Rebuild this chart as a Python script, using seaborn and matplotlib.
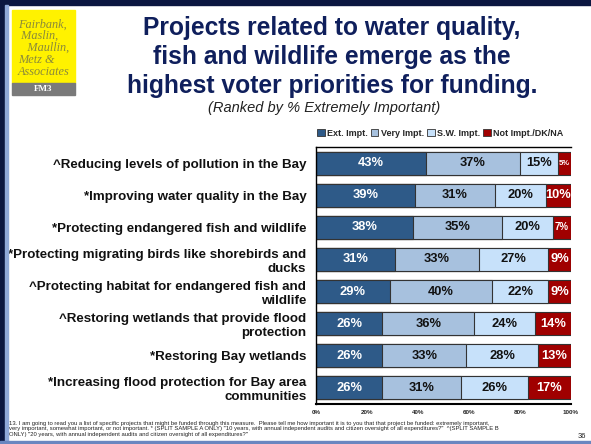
import seaborn as sns
import matplotlib.pyplot as plt
import pandas as pd
from matplotlib.patches import Rectangle, Patch

## data
projects = [
    "^Reducing levels of pollution in the Bay",
    "*Improving water quality in the Bay",
    "*Protecting endangered fish and wildlife",
    "*Protecting migrating birds like shorebirds and\nducks",
    "^Protecting habitat for endangered fish and\nwildlife",
    "^Restoring wetlands that provide flood\nprotection",
    "*Restoring Bay wetlands",
    "*Increasing flood protection for Bay area\ncommunities",
]
ext_impt = [43, 39, 38, 31, 29, 26, 26, 26]
very_impt = [37, 31, 35, 33, 40, 36, 33, 31]
sw_impt = [15, 20, 20, 27, 22, 24, 28, 26]
not_impt = [5, 10, 7, 9, 9, 14, 13, 17]
series_names = ["Ext. Impt.", "Very Impt.", "S.W. Impt.", "Not Impt./DK/NA"]
colors = ["#2E5A88", "#A7C1DE", "#C7E1FA", "#A00000"]
text_colors = ["white", "#111111", "#111111", "white"]
xticks = [0, 20, 40, 60, 80, 100]

df = pd.DataFrame({"project": projects, "Ext. Impt.": ext_impt, "Very Impt.": very_impt,
                   "S.W. Impt.": sw_impt, "Not Impt./DK/NA": not_impt})
cum = df[series_names].cumsum(axis=1)

sns.set_theme(style="white")
plt.rcParams["font.family"] = ["Liberation Sans", "DejaVu Sans"]

fig = plt.figure(figsize=(5.91, 4.44), dpi=100)
ax = fig.add_axes([0.5347, 0.0901, 0.4315, 0.5788])

# stacked bars: draw cumulative totals from longest to shortest
for i in range(len(series_names) - 1, -1, -1):
    d = pd.DataFrame({"project": projects, "val": cum[series_names[i]]})
    sns.barplot(data=d, x="val", y="project", order=projects, orient="h", color=colors[i],
                saturation=1, width=0.72, edgecolor="#333333", linewidth=0.8, ax=ax)

# labels inside the bars
for r in range(len(projects)):
    left = 0
    for i, name in enumerate(series_names):
        v = df[name][r]
        fs = 9.3
        if v < 6:
            fs = 5.5
        elif v < 8:
            fs = 7
        ax.text(left + v / 2, r, f"{v}%", ha="center", va="center", color=text_colors[i],
                fontsize=fs, fontweight="bold")
        left += v

ax.set_xlim(0, 100)
ax.set_ylim(len(projects) - 0.5, -0.5)
ax.set_xticks(xticks)
ax.set_xticklabels([f"{t}%" for t in xticks], fontsize=4.5, fontweight="bold")
ax.tick_params(axis="x", direction="in", length=3, width=0.8, color="black", pad=4)
ax.tick_params(axis="y", length=0, pad=7, labelsize=9.6)
for lab in ax.get_yticklabels():
    lab.set_fontweight("bold")
    lab.set_color("#111111")
ax.set_xlabel("")
ax.set_ylabel("")
for s in ["top", "left", "bottom"]:
    ax.spines[s].set_color("black")
    ax.spines[s].set_linewidth(1.0)
ax.spines["right"].set_visible(False)
ax.spines["bottom"].set_linewidth(1.5)

# legend
handles = [Patch(facecolor=c, edgecolor="#333333", linewidth=0.6, label=n) for c, n in zip(colors, series_names)]
fig.legend(handles=handles, loc="center", bbox_to_anchor=(0.745, 0.70), ncol=4, frameon=False,
           prop={"size": 6.45, "weight": "bold"}, handlelength=0.8, handleheight=0.8,
           handletextpad=0.25, columnspacing=0.4, borderpad=0)

# title and subtitle
fig.text(0.562, 0.872, "Projects related to water quality,\nfish and wildlife emerge as the\nhighest voter priorities for funding.",
         ha="center", va="center", fontsize=17.7, fontweight="bold", color="#0F1F5C", linespacing=1.27)
fig.text(0.549, 0.757, "(Ranked by % Extremely Important)", ha="center", va="center",
         fontsize=10.5, style="italic", color="#222222")

# footnote
fig.text(0.016, 0.034,
         "13. I am going to read you a list of specific projects that might be funded through this measure.  Please tell me how important it is to you that that project be funded: extremely important,\n"
         "very important, somewhat important, or not important. * (SPLIT SAMPLE A ONLY) \"10 years, with annual independent audits and citizen oversight of all expenditures?\"  ^(SPLIT SAMPLE B\n"
         "ONLY) \"20 years, with annual independent audits and citizen oversight of all expenditures?\"",
         ha="left", va="center", fontsize=4.2, color="#222222", linespacing=1.1)
fig.text(0.992, 0.016, "36", ha="right", va="center", fontsize=5.5, color="#222222")

# logo
fig.patches.append(Rectangle((0.020, 0.813), 0.107, 0.165, transform=fig.transFigure, color="#FFF200", zorder=1))
fig.patches.append(Rectangle((0.020, 0.786), 0.107, 0.028, transform=fig.transFigure, color="#7A7A7A", zorder=1))
fig.text(0.030, 0.892, "Fairbank,\n Maslin,\n   Maullin,\nMetz &\nAssociates", ha="left", va="center",
         fontsize=8.8, family="Liberation Serif", style="italic", color="#8A8A3A", linespacing=0.98)
fig.text(0.073, 0.800, "FM3", ha="center", va="center", fontsize=6.5, family="Liberation Serif",
         color="white", fontweight="bold")

# slide frame
fig.patches.append(Rectangle((0, 0.988), 1, 0.012, transform=fig.transFigure, color="#0B1640", zorder=0))
fig.patches.append(Rectangle((0, 0), 0.009, 1, transform=fig.transFigure, color="#0B1640", zorder=0))
fig.patches.append(Rectangle((0.009, 0), 0.004, 0.988, transform=fig.transFigure, color="#8FA8D8", zorder=0))
fig.patches.append(Rectangle((0, 0), 1, 0.006, transform=fig.transFigure, color="#6A86C0", zorder=0))

fig.savefig("out.png", dpi=100)
